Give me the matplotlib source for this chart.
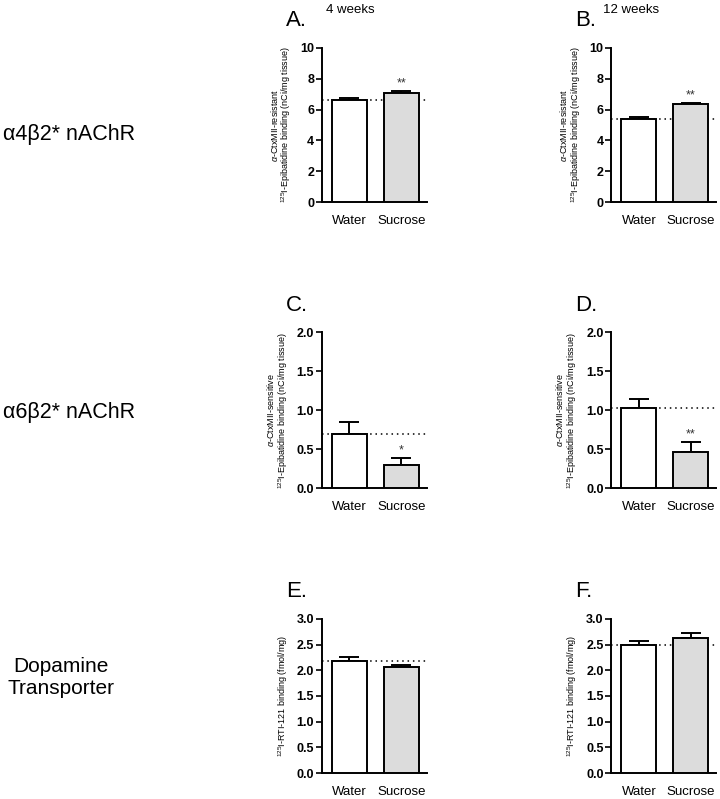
import matplotlib.pyplot as plt

groups = ['Water', 'Sucrose']

means_a = [6.65, 7.10]
errs_a = [0.10, 0.13]
means_b = [5.40, 6.35]
errs_b = [0.10, 0.10]
means_c = [0.70, 0.30]
errs_c = [0.15, 0.09]
means_d = [1.03, 0.47]
errs_d = [0.12, 0.12]
means_e = [2.17, 2.06]
errs_e = [0.08, 0.05]
means_f = [2.50, 2.63]
errs_f = [0.06, 0.09]

stars_a = ['', '**']
stars_b = ['', '**']
stars_c = ['', '*']
stars_d = ['', '**']
stars_e = ['', '']
stars_f = ['', '']

ylab_res = r'$\alpha$-CtxMII-resistant' + '\n' + r'$^{125}$I-Epibatidine binding (nCi/mg tissue)'
ylab_sen = r'$\alpha$-CtxMII-sensitive' + '\n' + r'$^{125}$I-Epibatidine binding (nCi/mg tissue)'
ylab_dat = r'$^{125}$I-RTI-121 binding (fmol/mg)'

plt.rcParams['font.family'] = ['Liberation Sans', 'DejaVu Sans']
plt.rcParams['mathtext.fontset'] = 'custom'
plt.rcParams['mathtext.rm'] = 'Liberation Sans'
plt.rcParams['mathtext.it'] = 'Liberation Sans:italic'

fig = plt.figure(figsize=(7.2, 7.99), dpi=100)

w = 0.146
h = 0.193
panels = [
    # letter, rect, means, errs, stars, ylim, ticks, ylabel
    ('A.', [0.447, 0.747, w, h], means_a, errs_a, stars_a, 10, [0, 2, 4, 6, 8, 10], ylab_res),
    ('B.', [0.849, 0.747, w, h], means_b, errs_b, stars_b, 10, [0, 2, 4, 6, 8, 10], ylab_res),
    ('C.', [0.447, 0.389, w, 0.195], means_c, errs_c, stars_c, 2.0, [0, 0.5, 1.0, 1.5, 2.0], ylab_sen),
    ('D.', [0.849, 0.389, w, 0.195], means_d, errs_d, stars_d, 2.0, [0, 0.5, 1.0, 1.5, 2.0], ylab_sen),
    ('E.', [0.447, 0.0325, w, h], means_e, errs_e, stars_e, 3.0, [0, 0.5, 1.0, 1.5, 2.0, 2.5, 3.0], ylab_dat),
    ('F.', [0.849, 0.0325, w, h], means_f, errs_f, stars_f, 3.0, [0, 0.5, 1.0, 1.5, 2.0, 2.5, 3.0], ylab_dat),
]

colors = ['white', '#dcdcdc']
x = [0, 1]

for letter, rect, means, errs, stars, ymax, ticks, ylab in panels:
    ax = fig.add_axes(rect)
    ax.bar(x, means, width=0.67, color=colors, edgecolor='black', linewidth=1.4, zorder=3)
    ax.errorbar(x, means, yerr=[[0, 0], errs], fmt='none', ecolor='black',
                elinewidth=1.4, capsize=7, capthick=1.4, zorder=2)
    ax.axhline(means[0], color='black', linestyle=(0, (1, 2.5)), linewidth=1.1, zorder=1,
               clip_on=False)
    for xi, m, e, s in zip(x, means, errs, stars):
        if s:
            ax.text(xi, m + e + ymax * 0.01, s, ha='center', va='bottom', fontsize=9, color='#333333')
    ax.set_xlim(-0.53, 1.49)
    ax.set_ylim(0, ymax)
    ax.set_yticks(ticks)
    if ymax == 10:
        ax.set_yticklabels([str(t) for t in ticks])
    else:
        ax.set_yticklabels(['%.1f' % t for t in ticks])
    ax.set_xticks(x)
    ax.set_xticklabels(groups, fontsize=9.5)
    ax.tick_params(axis='x', length=0, pad=9)
    ax.tick_params(axis='y', length=4, width=1.2, labelsize=9, pad=1.5)
    for lab in ax.get_yticklabels():
        lab.set_fontweight('bold')
    ax.spines['top'].set_visible(False)
    ax.spines['right'].set_visible(False)
    ax.spines['left'].set_linewidth(1.4)
    ax.spines['bottom'].set_linewidth(1.4)
    ax.set_ylabel(ylab, fontsize=6.5, labelpad=5, linespacing=1.0)
    ax.text(rect[0] - 0.05, rect[1] + rect[3] + 0.034, letter, transform=fig.transFigure,
            fontsize=16, ha='left', va='center')

fig.text(0.487, 0.988, '4 weeks', ha='center', va='center', fontsize=9.5)
fig.text(0.877, 0.988, '12 weeks', ha='center', va='center', fontsize=9.5)

fig.text(0.004, 0.832, 'α4β2* nAChR', ha='left', va='center', fontsize=15.5)
fig.text(0.004, 0.484, 'α6β2* nAChR', ha='left', va='center', fontsize=15.5)
fig.text(0.085, 0.152, 'Dopamine\nTransporter', ha='center', va='center', fontsize=15,
         linespacing=1.25)

fig.savefig('out.png', dpi=100)
